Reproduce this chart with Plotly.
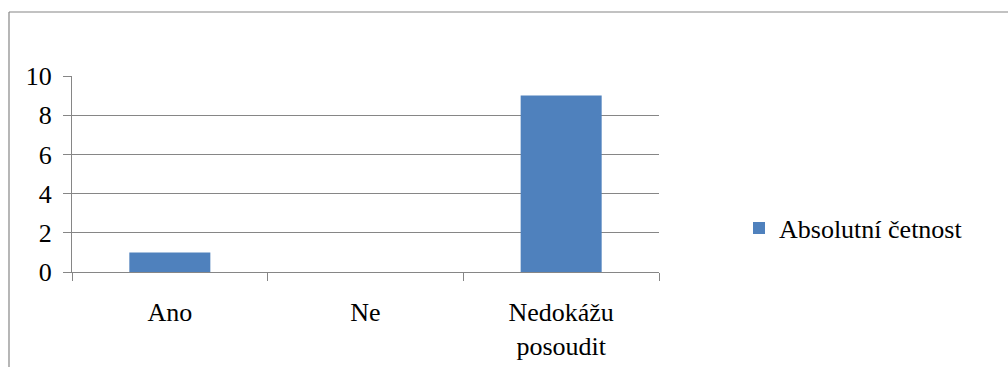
import plotly.graph_objects as go

# Survey answers and how many respondents chose each one
categories = ["Ano", "Ne", "Nedokážu<br>posoudit"]
counts = [1, 0, 9]
series_name = "Absolutní četnost"
y_ticks = [0, 2, 4, 6, 8, 10]

W, H = 1008, 367
# plot area in pixels
L, R, T, B = 72, 659, 76, 272

def px_x(p):
    return (p - L) / (R - L)

def px_y(p):
    return (B - p) / (B - T)

FONT = "Liberation Serif"
FSIZE = 26
GRID = "#868686"

fig = go.Figure(
    go.Bar(
        x=categories,
        y=counts,
        name=series_name,
        marker=dict(color="#4F81BD", line=dict(width=0)),
        showlegend=True,
    )
)

fig.update_layout(
    width=W,
    height=H,
    margin=dict(l=L, r=W - R, t=T, b=H - B, autoexpand=False),
    paper_bgcolor="white",
    plot_bgcolor="white",
    font=dict(family=FONT, size=FSIZE, color="black"),
    bargap=0.586,
    showlegend=True,
    legend=dict(
        x=px_x(739),
        y=px_y(228),
        xanchor="left",
        yanchor="middle",
        font=dict(family=FONT, size=FSIZE, color="black"),
        bgcolor="rgba(0,0,0,0)",
    ),
    shapes=[
        # outer chart frame (top and left edges)
        dict(type="line", xref="paper", yref="paper",
             x0=px_x(9), x1=px_x(1010), y0=px_y(12), y1=px_y(12),
             line=dict(color=GRID, width=1.2)),
        dict(type="line", xref="paper", yref="paper",
             x0=px_x(9), x1=px_x(9), y0=px_y(12), y1=px_y(370),
             line=dict(color=GRID, width=1.2)),
    ],
)

fig.update_xaxes(
    range=[-0.5, 2.5],
    showline=True,
    linecolor=GRID,
    linewidth=1,
    ticks="outside",
    tickson="boundaries",
    ticklen=8,
    tickcolor=GRID,
    showgrid=False,
    ticklabelstandoff=17,
    tickfont=dict(family=FONT, size=FSIZE, color="black"),
)

fig.update_yaxes(
    range=[0, 10],
    tickvals=y_ticks,
    showline=True,
    linecolor=GRID,
    linewidth=1,
    ticks="outside",
    ticklen=8,
    tickcolor=GRID,
    showgrid=True,
    gridcolor=GRID,
    gridwidth=1,
    zeroline=False,
    ticklabelstandoff=6,
    tickfont=dict(family=FONT, size=FSIZE, color="black"),
)

fig.write_html("out.html")
